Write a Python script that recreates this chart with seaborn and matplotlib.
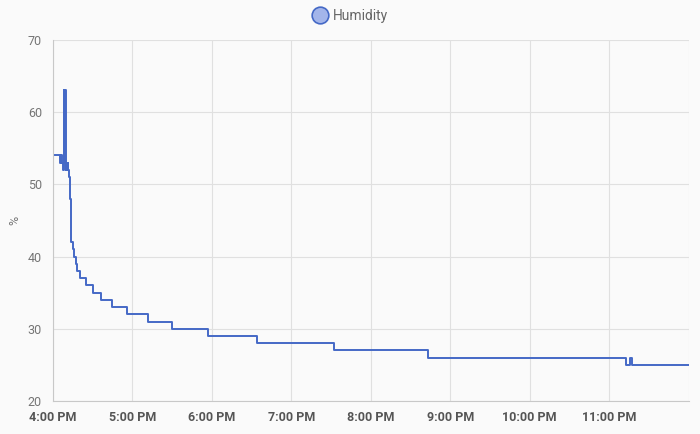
import pandas as pd
import matplotlib
matplotlib.use("Agg")
import matplotlib.pyplot as plt
import matplotlib.dates as mdates
from matplotlib.lines import Line2D
import seaborn as sns

# -------------------------
# DATA (minutes after 4:00 PM)
# -------------------------
minutes = [0, 5.5, 6.3, 7.0, 7.6, 8.3, 8.6, 9.2, 9.6, 10.0, 10.5, 11.0, 11.6,
           12.1, 13.2, 13.8, 15.0, 15.7, 17.0, 18.0, 20.6, 24.6, 30.1, 36.5,
           44.7, 55.8, 71.9, 89.8, 116.7, 153.8, 212.0, 283.0, 432.6, 435.6,
           437.1, 480]
humidity = [54, 53, 54, 53, 52, 63, 53, 63, 52, 53, 52, 53, 52,
            51, 48, 42, 41, 40, 39, 38, 37, 36, 35, 34,
            33, 32, 31, 30, 29, 28, 27, 26, 25, 26,
            25, 25]
y_ticks = [20, 30, 40, 50, 60, 70]

start = pd.Timestamp("2024-01-01 16:00")
df = pd.DataFrame({
    "time": start + pd.to_timedelta(minutes, unit="m"),
    "humidity": humidity,
})

line_col = "#4569c6"
bg = "#fafafa"

sns.set_style("white")
plt.rcParams["font.family"] = ["Roboto", "DejaVu Sans"]

fig = plt.figure(figsize=(7, 4.34), dpi=100, facecolor=bg)
ax = fig.add_axes([0.0757, 0.076, 0.908, 0.832], facecolor=bg)

sns.lineplot(data=df, x="time", y="humidity", ax=ax, color=line_col,
             lw=1.4, drawstyle="steps-post", legend=False)

ax.set_xlim(start, start + pd.Timedelta(hours=8))
ax.set_ylim(20, 70)
ax.set_yticks(y_ticks)
ax.xaxis.set_major_locator(mdates.HourLocator())
ax.xaxis.set_major_formatter(mdates.DateFormatter("%-I:%M %p"))

ax.grid(True, color="#e0e0e0", lw=0.8)
ax.set_axisbelow(True)
for s in ["top", "right"]:
    ax.spines[s].set_visible(False)
for s in ["left", "bottom"]:
    ax.spines[s].set_color("#c8c8c8")
    ax.spines[s].set_linewidth(0.8)

ax.tick_params(axis="both", length=6, color="#e0e0e0", width=0.8)
ax.tick_params(axis="x", pad=1, labelsize=9, labelcolor="#555555")
ax.tick_params(axis="y", pad=2, labelsize=9, labelcolor="#757575")
for lb in ax.get_xticklabels():
    lb.set_fontweight("bold")
# hide the tick label at the very right edge (midnight)
xt = ax.get_xticklabels()
if len(xt) > 8:
    xt[-1].set_visible(False)

ax.set_xlabel("")
ax.set_ylabel("%", color="#757575", fontsize=9)
ax.yaxis.set_label_coords(-0.05, 0.5)

handle = Line2D([], [], marker="o", ls="none", markersize=12,
                markerfacecolor="#a3b5ea", markeredgecolor=line_col,
                markeredgewidth=1.2)
fig.legend([handle], ["Humidity"], loc="center", bbox_to_anchor=(0.5, 0.963),
           frameon=False, fontsize=10, labelcolor="#666666",
           handletextpad=0.3, handlelength=1.2)

fig.savefig("out.png", dpi=100, facecolor=bg)
